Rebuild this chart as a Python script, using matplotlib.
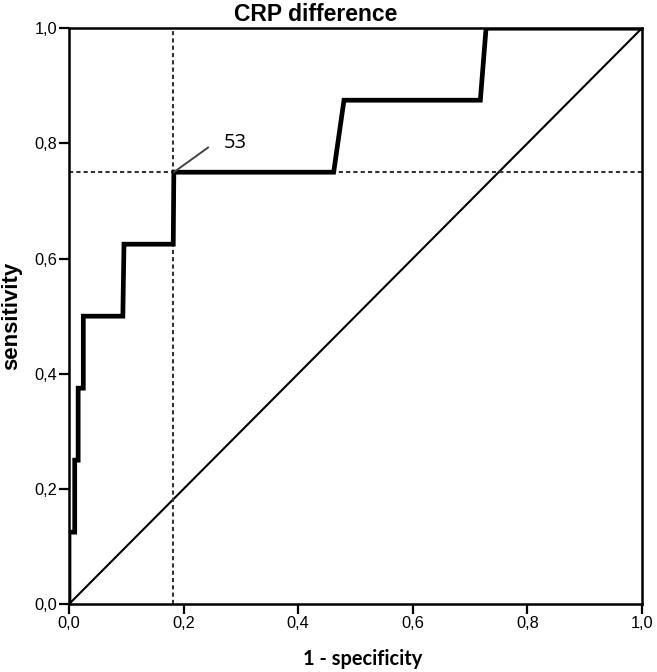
import matplotlib.pyplot as plt
from matplotlib.ticker import FuncFormatter

# ROC curve points (1 - specificity, sensitivity)
fpr = [0.0, 0.0, 0.010, 0.010, 0.016, 0.016, 0.025, 0.025, 0.094, 0.096,
       0.182, 0.183, 0.462, 0.480, 0.718, 0.728, 1.0]
tpr = [0.0, 0.125, 0.125, 0.25, 0.25, 0.375, 0.375, 0.5, 0.5, 0.625,
       0.625, 0.75, 0.75, 0.875, 0.875, 1.0, 1.0]

cut_fpr = 0.181
cut_tpr = 0.75
cut_label = "53"
ticks = [0.0, 0.2, 0.4, 0.6, 0.8, 1.0]

fig = plt.figure(figsize=(6.57, 6.72), dpi=100)
ax = fig.add_axes([0.105, 0.101, 0.872, 0.857])

# reference line and cut-off guides
ax.plot([0, 1], [0, 1], color='black', lw=1.5)
ax.axvline(cut_fpr, color='#333333', lw=1.5, ls=(0, (2, 1.5)))
ax.axhline(cut_tpr, color='#333333', lw=1.5, ls=(0, (2, 1.5)))

# the ROC curve
ax.plot(fpr, tpr, color='black', lw=3.4, solid_joinstyle='miter')

# cut-off label with its leader line
ax.annotate('', xy=(cut_fpr + 0.002, cut_tpr), xytext=(0.243, 0.793),
            arrowprops=dict(arrowstyle='-', color='#444444', lw=1.4,
                            shrinkA=0, shrinkB=0))
ax.text(0.27, 0.80, cut_label, fontsize=14.5, family='Open Sans',
        va='center', ha='left')

ax.set_xlim(0, 1)
ax.set_ylim(0, 1)
ax.set_xticks(ticks)
ax.set_yticks(ticks)
fmt = FuncFormatter(lambda v, p: f"{v:.1f}".replace('.', ','))
ax.xaxis.set_major_formatter(fmt)
ax.yaxis.set_major_formatter(fmt)
ax.tick_params(direction='out', length=7, width=1.6, labelsize=11.8, pad=1.5)
for lab in ax.get_xticklabels() + ax.get_yticklabels():
    lab.set_family('Liberation Sans')
for s in ax.spines.values():
    s.set_linewidth(1.8)

ax.set_title('CRP difference', fontsize=16.5, fontweight='bold',
             family='Liberation Sans', pad=5, x=0.431)
ax.set_xlabel('1 - specificity', fontsize=14.4, fontweight='bold',
              family='Lato', labelpad=13, x=0.513)
ax.set_ylabel('sensitivity', fontsize=16, fontweight='bold',
              family='Liberation Sans', labelpad=9)

fig.savefig('out.png', dpi=100)
